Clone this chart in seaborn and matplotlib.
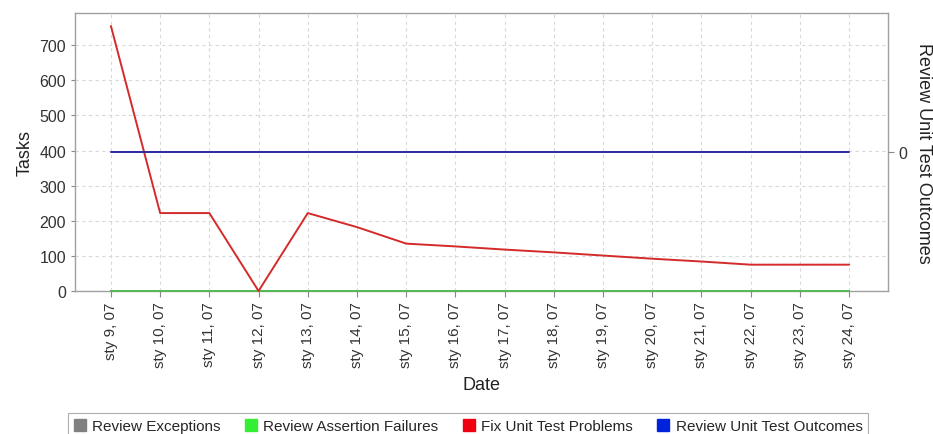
import matplotlib
matplotlib.use("Agg")
import matplotlib.pyplot as plt
import seaborn as sns
import pandas as pd
from matplotlib.patches import Patch

dates = ["sty 9, 07", "sty 10, 07", "sty 11, 07", "sty 12, 07", "sty 13, 07", "sty 14, 07",
         "sty 15, 07", "sty 16, 07", "sty 17, 07", "sty 18, 07", "sty 19, 07", "sty 20, 07",
         "sty 21, 07", "sty 22, 07", "sty 23, 07", "sty 24, 07"]
review_exceptions = [0] * 16
review_assertion_failures = [0] * 16
fix_unit_test_problems = [755, 222, 222, 0, 222, 182, 135, 127, 118, 110, 101, 92, 84, 75, 75, 75]
review_unit_test_outcomes = [0] * 16

series_names = ["Review Exceptions", "Review Assertion Failures", "Fix Unit Test Problems", "Review Unit Test Outcomes"]
legend_colors = ["#808080", "#33ee33", "#ee0010", "#0022dd"]
line_colors = ["#808080", "#55bb55", "#d42a2a", "#2a2aa0"]

sns.set_theme(style="white")
plt.rcParams['font.family'] = ['Liberation Sans', 'DejaVu Sans']

fig = plt.figure(figsize=(9.33, 4.35), dpi=100)
ax = fig.add_axes([75/933, 1 - 292/435, (888 - 75)/933, (292 - 14)/435])

x = list(range(len(dates)))
df_left = pd.DataFrame({"x": x * 3,
                        "value": review_exceptions + review_assertion_failures + fix_unit_test_problems,
                        "series": [series_names[0]] * 16 + [series_names[1]] * 16 + [series_names[2]] * 16})
sns.lineplot(data=df_left, x="x", y="value", hue="series",
             palette={series_names[0]: line_colors[0], series_names[1]: line_colors[1], series_names[2]: line_colors[2]},
             ax=ax, linewidth=1.4, legend=False)

ax.set_xlim(-0.73, 15.79)
ax.set_ylim(0, 792)
ax.set_yticks([0, 100, 200, 300, 400, 500, 600, 700])
ax.set_xticks(x)
ax.set_xticklabels(dates, rotation=90, fontsize=11, color="#333333")
ax.tick_params(axis="y", labelsize=11.5, colors="#333333", length=3, width=0.8, left=True, color="#888888")
ax.tick_params(axis="x", length=4, width=0.8, bottom=True, color="#888888")
ax.set_xlabel("Date", fontsize=13, color="#222222", labelpad=6)
ax.set_ylabel("Tasks", fontsize=13, color="#222222")
ax.grid(True, color="#d8d8d8", linestyle=(0, (3, 3)), linewidth=0.8)
for s in ax.spines.values():
    s.set_color("#a0a0a0")
    s.set_linewidth(1.0)

# keep the zero lines visible on top of the bottom spine
for ln in ax.get_lines():
    ln.set_clip_on(False)
    ln.set_zorder(5)

ax2 = ax.twinx()
df_right = pd.DataFrame({"x": x, "value": review_unit_test_outcomes})
sns.lineplot(data=df_right, x="x", y="value", color=line_colors[3], ax=ax2, linewidth=1.4)
ax2.set_ylim(-1, 1)
ax2.set_yticks([0])
ax2.tick_params(axis="y", labelsize=11.5, colors="#333333", length=4, width=0.8, right=True, color="#888888")
ax2.set_ylabel("Review Unit Test Outcomes", fontsize=13, color="#222222", rotation=-90, labelpad=18)
ax2.grid(False)
for s in ax2.spines.values():
    s.set_visible(False)
ax2.set_xlim(-0.73, 15.79)

handles = [Patch(facecolor=c, edgecolor=c) for c in legend_colors]
leg = fig.legend(handles, series_names, loc="center", bbox_to_anchor=(468/933, 1 - 427/435),
                 ncol=4, frameon=True, fontsize=11, handlelength=0.8, handleheight=0.9,
                 handletextpad=0.4, columnspacing=1.6, borderpad=0.35, fancybox=False)
leg.get_frame().set_edgecolor("#999999")
leg.get_frame().set_linewidth(0.8)

fig.savefig("out.png", dpi=100)
